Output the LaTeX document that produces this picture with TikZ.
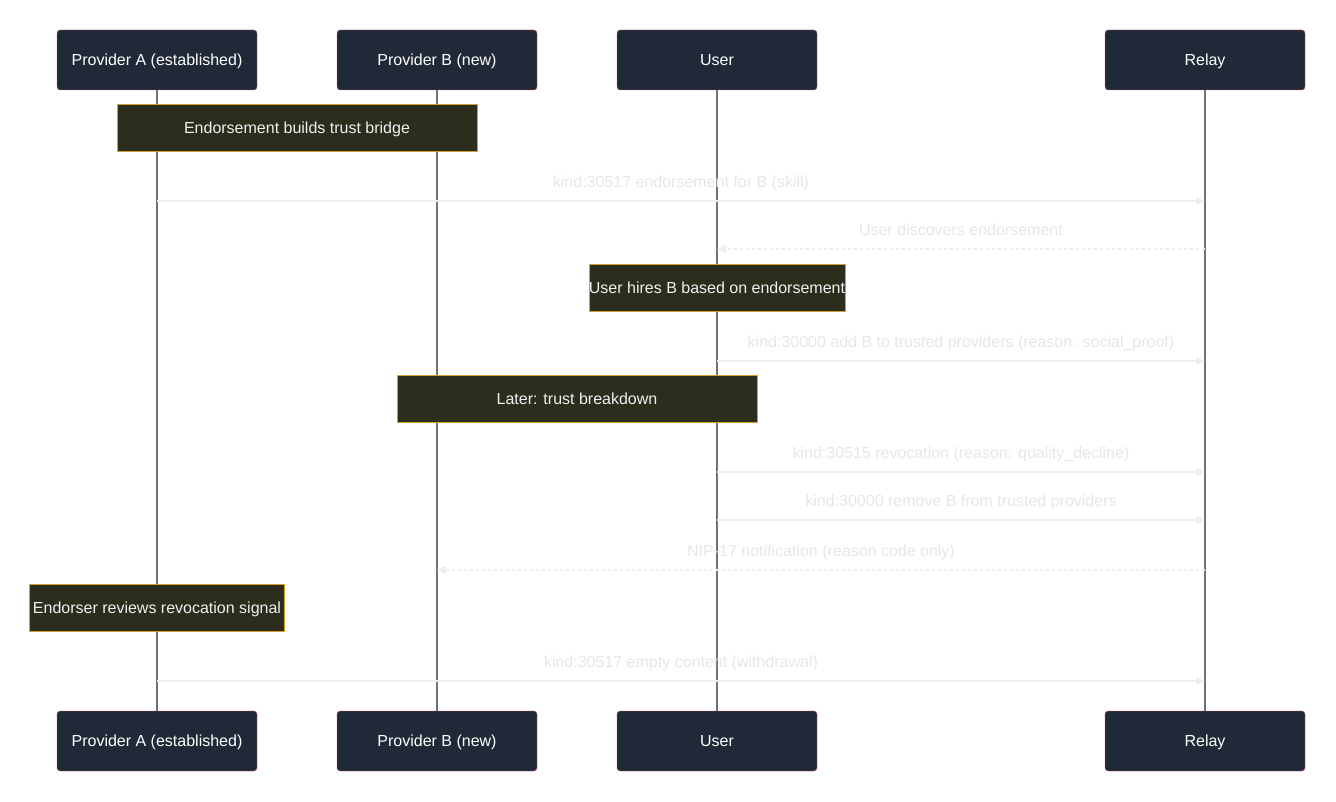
\documentclass[tikz,border=0pt]{standalone}
\usepackage{fontspec}
\setmainfont{Liberation Sans}
\usetikzlibrary{positioning, arrows.meta}
\definecolor{actorfill}{HTML}{1F2937}
\definecolor{actorline}{HTML}{E0607A}
\definecolor{lifecol}{HTML}{6B7280}
\definecolor{notefill}{HTML}{2D2D1E}
\definecolor{noteline}{HTML}{D69E2E}
\definecolor{msgline}{HTML}{EEEEEE}
\definecolor{msgtext}{HTML}{E6E6E6}

\begin{document}
\begin{tikzpicture}[x=1pt, y=-1pt,
        txt/.style={font=\fontsize{16}{19}\selectfont, text height=13.4pt, text depth=2pt},
        actor/.style={txt, draw=actorline, fill=actorfill, rounded corners=3pt, minimum width=200pt, minimum height=60pt, text=white},
        note/.style={txt, draw=noteline, fill=notefill, text=white!94!black, minimum height=47pt, inner sep=0pt},
        lifeline/.style={draw=lifecol, line width=1.6pt},
        msg/.style={draw=msgline, line width=1.5pt, -{Triangle[length=9pt, width=8pt]}},
        reply/.style={msg, dash pattern=on 3pt off 3pt},
        lbl/.style={txt, text=msgtext, midway, yshift=19pt}]
    \useasboundingbox (0, 0) rectangle (1336, 802);

    \foreach \name/\txt/\x in {pa/{Provider A (established)}/157, pb/{Provider B (new)}/437, us/User/717, rl/Relay/1205} {
        \node[actor] (\name) at (\x, 60) {\txt};
        \node[actor] (\name-end) at (\x, 741) {\txt};
        \draw[lifeline] (\name) -- (\name-end);
    }

    \node[note, minimum width=360pt] (bridge) at (297, 128) {Endorsement builds trust bridge};
    \draw[msg] (pa |- 0, 201) -- node[lbl] {kind:30517 endorsement for B (skill)} (rl |- 0, 201);
    \draw[reply] (rl |- 0, 249) -- node[lbl] {User discovers endorsement} (us |- 0, 249);

    \node[note, minimum width=256pt] (hires) at (717, 288) {User hires B based on endorsement};
    \draw[msg] (us |- 0, 361) -- node[lbl] {kind:30000 add B to trusted providers (reason: social\_proof)} (rl |- 0, 361);

    \node[note, minimum width=360pt] (later) at (577, 399) {Later: trust breakdown};
    \draw[msg] (us |- 0, 472) -- node[lbl] {kind:30515 revocation (reason: quality\_decline)} (rl |- 0, 472);
    \draw[msg] (us |- 0, 520) -- node[lbl] {kind:30000 remove B from trusted providers} (rl |- 0, 520);
    \draw[reply] (rl |- 0, 570) -- node[lbl] {NIP-17 notification (reason code only)} (pb |- 0, 570);

    \node[note, minimum width=255pt] (reviews) at (157, 608) {Endorser reviews revocation signal};
    \draw[msg] (pa |- 0, 681) -- node[lbl] {kind:30517 empty content (withdrawal)} (rl |- 0, 681);
\end{tikzpicture}
\end{document}
